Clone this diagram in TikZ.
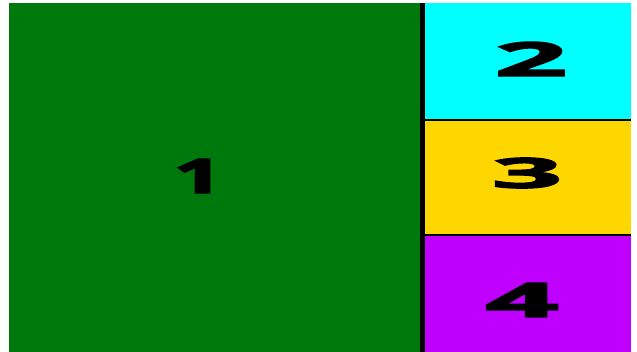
\documentclass[tikz,border=0pt]{standalone}
\usepackage{xcolor}
\usepackage{fontspec}
\newfontfamily\heavyfont[FakeBold=3]{Open Sans}
\usepackage{tikz}
\usetikzlibrary{positioning}
\definecolor{cellGreen}{HTML}{00790C}
\definecolor{cellCyan}{HTML}{00FFFF}
\definecolor{cellGold}{HTML}{FFD700}
\definecolor{cellPurple}{HTML}{BF00FF}
\newcommand{\cellnum}[3]{\resizebox{#1}{#2}{\heavyfont\bfseries #3}}

\begin{document}
\begin{tikzpicture}[
    x=1pt, y=-1pt,
    cell/.style={rectangle, draw=none, inner sep=0pt, outer sep=0pt},
    digit/.style={inner sep=0pt, outer sep=0pt, text=black},
]
\useasboundingbox[fill=white] (0,0) rectangle (637,352);

% Divider backing
\fill[black] (420,3) rectangle (631,352);

% Cells
\node[cell, fill=cellGreen, minimum width=411pt, minimum height=349pt]
    (one) at (214.5,177.5) {};
\node[cell, fill=cellCyan, minimum width=206pt, minimum height=116pt]
    (two) at (528,61) {};
\node[cell, fill=cellGold, minimum width=206pt, minimum height=113pt]
    (three) at (528,177.5) {};
\node[cell, fill=cellPurple, minimum width=206pt, minimum height=116pt]
    (four) at (528,294) {};

% Numbers
\node[digit] (lblone) at (198,176) {\cellnum{49pt}{34pt}{1}};
\node[digit] (lbltwo) at (531,59) {\cellnum{72pt}{34pt}{2}};
\node[digit] (lblthree) at (527,173) {\cellnum{70pt}{30pt}{3}};
\node[digit] (lblfour) at (522,300) {\cellnum{73pt}{34pt}{4}};
\end{tikzpicture}
\end{document}
